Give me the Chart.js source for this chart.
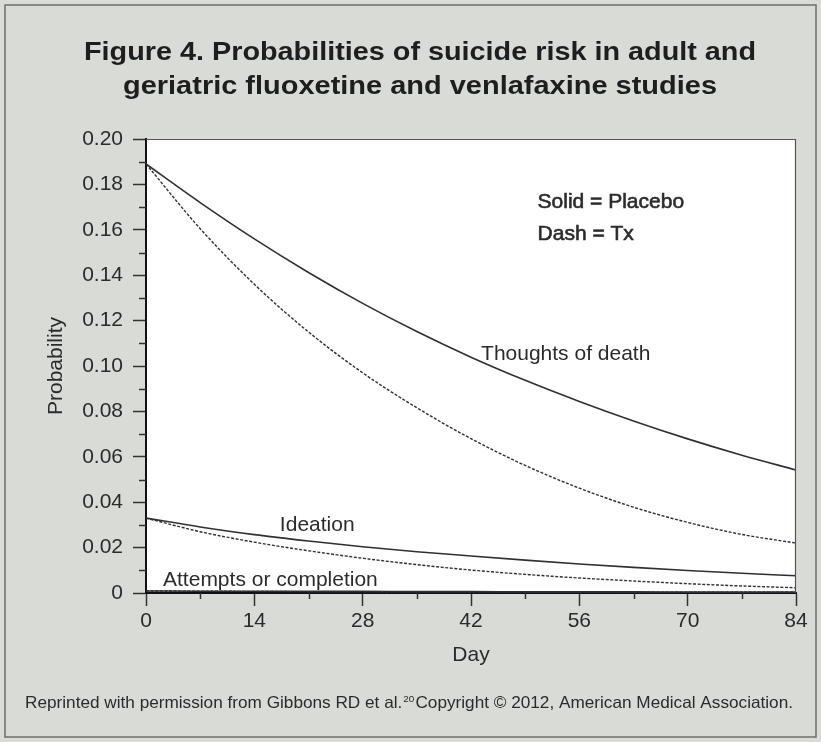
<!DOCTYPE html>
<html>
<head>
<meta charset="utf-8">
<script src="https://cdn.jsdelivr.net/npm/chart.js@4"></script>
<style>
  html, body { margin: 0; padding: 0; background: #d9dcd6; }
  #c { display: block; }
</style>
</head>
<body>
<canvas id="c" width="821" height="742"></canvas>
<script>
// Study days on the x axis
const days = [0, 7, 14, 21, 28, 35, 42, 49, 56, 63, 70, 77, 84];

// Thoughts of death
const deathPlacebo = [0.189, 0.172, 0.156, 0.1412, 0.1276, 0.1152, 0.1039, 0.0937, 0.0844, 0.0758, 0.0679, 0.0607, 0.0542];
const deathTx      = [0.189, 0.1605, 0.136, 0.115, 0.097, 0.0816, 0.068, 0.0562, 0.0462, 0.0378, 0.0311, 0.0258, 0.022];

// Ideation
const ideationPlacebo = [0.033, 0.0291, 0.0257, 0.0229, 0.0204, 0.0182, 0.0163, 0.0145, 0.0128, 0.0113, 0.0099, 0.0087, 0.0076];
const ideationTx      = [0.033, 0.0270, 0.0224, 0.0186, 0.0153, 0.0125, 0.0101, 0.0082, 0.0066, 0.0053, 0.0041, 0.0031, 0.0023];

// Attempts or completion
const attemptsPlacebo = [0.0009, 0.0008, 0.0008, 0.0007, 0.0007, 0.0006, 0.0006, 0.0005, 0.0005, 0.0005, 0.0004, 0.0004, 0.0004];
const attemptsTx      = [0.0009, 0.0008, 0.0007, 0.0006, 0.0006, 0.0005, 0.0005, 0.0004, 0.0004, 0.0003, 0.0003, 0.0003, 0.0003];

// Axis ticks
const xMajorTicks = [0, 14, 28, 42, 56, 70, 84];
const yTickLabels = ['0', '0.02', '0.04', '0.06', '0.08', '0.10', '0.12', '0.14', '0.16', '0.18', '0.20'];

// Text
const titleLines = ['Figure 4. Probabilities of suicide risk in adult and',
                    'geriatric fluoxetine and venlafaxine studies'];
const footerParts = ['Reprinted with permission from Gibbons RD et al.', '20', 'Copyright \u00A9 2012, American Medical Association.'];
const curveLabels = [
  { text: 'Thoughts of death', day: 43.3, value: 0.1026, medium: false },
  { text: 'Ideation', day: 17.3, value: 0.0273, medium: false },
  { text: 'Attempts or completion', day: 2.2, value: 0.0031, medium: false },
  { text: 'Solid = Placebo', day: 50.6, value: 0.1696, medium: true },
  { text: 'Dash = Tx', day: 50.6, value: 0.1555, medium: true }
];

const FONT = '"Liberation Sans", Arial, Helvetica, sans-serif';
const INK = '#2b2b2b';
const LINE = '#303030';

function series(values) {
  return days.map((d, i) => ({ x: d, y: values[i] }));
}

function lineSet(label, values, dashed) {
  return {
    label,
    data: series(values),
    borderColor: LINE,
    borderWidth: dashed ? 1.4 : 1.6,
    borderDash: dashed ? [3, 1.6] : [],
    pointRadius: 0,
    fill: false,
    cubicInterpolationMode: 'monotone'
  };
}

const decor = {
  id: 'decor',
  beforeDraw(chart) {
    const { ctx, chartArea: a } = chart;
    ctx.save();
    ctx.fillStyle = '#d9dcd6';
    ctx.fillRect(0, 0, chart.width, chart.height);
    ctx.strokeStyle = '#6e6e6e';
    ctx.lineWidth = 1.5;
    ctx.strokeRect(5, 5, chart.width - 10, chart.height - 10);
    ctx.fillStyle = '#ffffff';
    ctx.fillRect(a.left, a.top, a.right - a.left, a.bottom - a.top);
    ctx.restore();
  },
  afterDraw(chart) {
    const { ctx, chartArea: a, scales: { x, y } } = chart;
    ctx.save();
    // frame on the top and right of the plot
    ctx.strokeStyle = '#555555';
    ctx.lineWidth = 1.2;
    ctx.beginPath();
    ctx.moveTo(a.left, a.top + 0.5);
    ctx.lineTo(a.right - 0.5, a.top + 0.5);
    ctx.lineTo(a.right - 0.5, a.bottom);
    ctx.stroke();

    // minor ticks
    ctx.strokeStyle = '#333333';
    ctx.lineWidth = 1.5;
    ctx.beginPath();
    for (let d = 7; d < 84; d += 14) {
      const px = Math.round(x.getPixelForValue(d)) + 0.5;
      ctx.moveTo(px, a.bottom);
      ctx.lineTo(px, a.bottom + 6);
    }
    for (let k = 1; k < 20; k += 2) {
      const py = Math.round(y.getPixelForValue(k / 100)) + 0.5;
      ctx.moveTo(a.left, py);
      ctx.lineTo(a.left - 7, py);
    }
    ctx.stroke();

    // curve labels
    ctx.fillStyle = INK;
    ctx.strokeStyle = INK;
    ctx.textBaseline = 'alphabetic';
    ctx.textAlign = 'left';
    curveLabels.forEach(l => {
      const px = x.getPixelForValue(l.day);
      const py = y.getPixelForValue(l.value);
      if (l.medium) {
        ctx.font = '21px ' + FONT;
        ctx.lineWidth = 0.6;
        ctx.fillText(l.text, px, py);
        ctx.strokeText(l.text, px, py);
      } else {
        ctx.font = '21px ' + FONT;
        ctx.fillText(l.text, px, py);
      }
    });

    // heading
    ctx.fillStyle = '#1e1e1e';
    ctx.font = 'bold 26.5px ' + FONT;
    const titleWidths = [672, 594];
    const titleBase = [60, 93.5];
    titleLines.forEach((t, i) => {
      const w = ctx.measureText(t).width;
      const s = titleWidths[i] / w;
      ctx.save();
      ctx.translate(420, titleBase[i]);
      ctx.scale(s, 1);
      ctx.textAlign = 'center';
      ctx.fillText(t, 0, 0);
      ctx.restore();
    });

    // credit line
    ctx.fillStyle = INK;
    ctx.textAlign = 'left';
    const mainFont = '16.5px ' + FONT;
    const supFont = '9.5px ' + FONT;
    ctx.font = mainFont;
    const w1 = ctx.measureText(footerParts[0]).width;
    const w3 = ctx.measureText(footerParts[2]).width;
    ctx.font = supFont;
    const w2 = ctx.measureText(footerParts[1]).width;
    const total = w1 + w2 + 2 + w3;
    const fs = 768 / total;
    ctx.save();
    ctx.translate(25, 708);
    ctx.scale(fs, 1);
    ctx.font = mainFont;
    ctx.fillText(footerParts[0], 0, 0);
    ctx.font = supFont;
    ctx.fillText(footerParts[1], w1 + 1, -6.5);
    ctx.font = mainFont;
    ctx.fillText(footerParts[2], w1 + w2 + 2, 0);
    ctx.restore();
    ctx.restore();
  }
};

new Chart(document.getElementById('c'), {
  type: 'line',
  data: {
    datasets: [
      lineSet('Thoughts of death, placebo', deathPlacebo, false),
      lineSet('Thoughts of death, Tx', deathTx, true),
      lineSet('Ideation, placebo', ideationPlacebo, false),
      lineSet('Ideation, Tx', ideationTx, true),
      lineSet('Attempts or completion, placebo', attemptsPlacebo, false),
      lineSet('Attempts or completion, Tx', attemptsTx, true)
    ]
  },
  options: {
    responsive: false,
    animation: false,
    layout: { padding: { top: 139, right: 25, bottom: 0, left: 0 } },
    plugins: { legend: { display: false }, tooltip: { enabled: false }, title: { display: false } },
    scales: {
      x: {
        type: 'linear',
        min: 0, max: 84,
        afterBuildTicks(scale) { scale.ticks = xMajorTicks.map(v => ({ value: v })); },
        afterFit(scale) { scale.height = 149; },
        ticks: {
          color: INK,
          font: { family: FONT, size: 21 },
          padding: 3,
          maxRotation: 0,
          autoSkip: false,
          callback: v => String(v)
        },
        grid: { drawOnChartArea: false, drawTicks: true, tickLength: 13, tickWidth: 1.5, tickColor: '#333333' },
        border: { display: true, color: '#111111', width: 2 },
        title: { display: true, text: 'Day', color: INK, font: { family: FONT, size: 21 }, padding: { top: 0, bottom: 74 } }
      },
      y: {
        type: 'linear',
        min: 0, max: 0.2,
        afterBuildTicks(scale) { scale.ticks = yTickLabels.map(t => ({ value: parseFloat(t), label: t })); },
        afterFit(scale) { scale.width = 146; },
        ticks: {
          color: INK,
          font: { family: FONT, size: 21 },
          padding: 10,
          autoSkip: false,
          callback: (v, i) => yTickLabels[i]
        },
        grid: { drawOnChartArea: false, drawTicks: true, tickLength: 13, tickWidth: 1.5, tickColor: '#333333' },
        border: { display: true, color: '#111111', width: 2 },
        title: { display: true, text: 'Probability', color: INK, font: { family: FONT, size: 21 }, padding: { top: 44, bottom: 0 } }
      }
    }
  },
  plugins: [decor]
});
</script>
</body>
</html>
